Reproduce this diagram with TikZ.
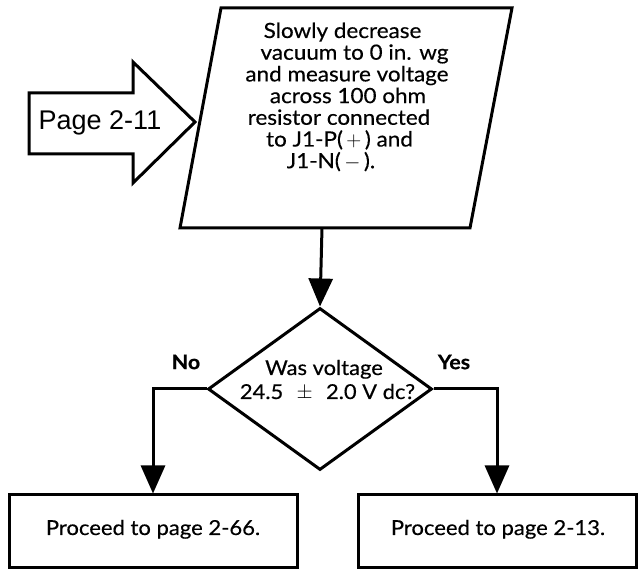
\documentclass[tikz,border=0pt]{standalone}
\usepackage{fontspec}
\setmainfont{Lato}[FakeStretch=1.07,FakeBold=0.4]
\newfontfamily\arialfont{Liberation Sans}
\usetikzlibrary{arrows.meta,shapes.geometric}
\begin{document}
\begin{tikzpicture}[x=1pt,y=-1pt,
  shapeline/.style={draw=black,line width=3pt,line join=miter},
  conn/.style={draw=black,line width=3pt,-{Triangle[length=28pt,width=24pt]}},
  boxnode/.style={shapeline,rectangle,inner sep=0pt},
  txt/.style={font=\fontsize{21}{22}\selectfont,inner sep=0pt,anchor=base},
  btxt/.style={font=\fontsize{20.6}{22}\selectfont,inner sep=0pt,anchor=base},
  dtxt/.style={font=\fontsize{20.5}{22}\selectfont,inner sep=0pt,anchor=base},
  lbl/.style={font=\bfseries\fontsize{20}{22}\selectfont,inner sep=0pt}]
\useasboundingbox (0,0) rectangle (638,577);
% block arrow
\draw[shapeline,fill=white] (29,93) -- (133,93) -- (133,62) -- (195,122) -- (133,183) -- (133,154) -- (29,154) -- cycle;
\node[inner sep=0pt,font=\arialfont\fontsize{27}{30}\selectfont] (pg) at (100,123) {Page 2-11};
% parallelogram
\draw[shapeline] (221,8) -- (512,8) -- (470,228) -- (180,228) -- cycle;
\coordinate (pb) at (322,228);
\node[txt] (p1) at (342.5,38) {Slowly decrease};
\node[txt] (p2) at (354.5,59.7) {vacuum to 0 in. wg};
\node[txt] (p3) at (347,81.4) {and measure voltage};
\node[txt] (p4) at (348,103.1) {across 100 ohm};
\node[txt] (p5) at (339,124.8) {resistor connected};
\node[txt] (p6) at (339.5,146.5) {to J1-P(\,$+$\,) and};
\node[txt] (p7) at (331,168.2) {J1-N(\,$-$\,).};
% diamond
\node[diamond,shapeline,minimum width=224pt,minimum height=162pt,inner sep=0pt] (dia) at (320,389) {};
\node[dtxt] (q1) at (324,375) {Was voltage};
\node[dtxt] (q2) at (327.5,399) {24.5\hspace{0.65em}$\pm$\hspace{0.65em}2.0 V dc?};
\node[lbl] (no) at (186,362) {No};
\node[lbl] (yes) at (454,362) {Yes};
% boxes
\node[boxnode,minimum width=288pt,minimum height=72pt] (lbox) at (153,531) {};
\node[btxt] (lt) at (153,535) {Proceed to page 2-66.};
\node[boxnode,minimum width=278pt,minimum height=72pt] (rbox) at (497,531) {};
\node[btxt] (rt) at (498,535) {Proceed to page 2-13.};
% connectors
\draw[conn] (pb) -- (dia.north);
\draw[conn] (dia.west) -| (lbox.north);
\draw[conn] (dia.east) -| (rbox.north);
\end{tikzpicture}
\end{document}
